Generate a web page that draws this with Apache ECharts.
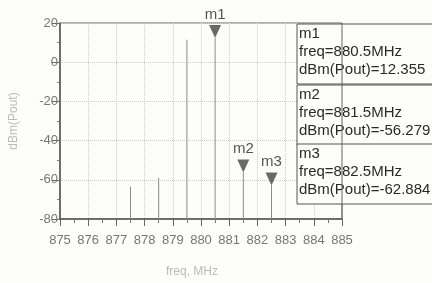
<!DOCTYPE html>
<html>
<head>
<meta charset="utf-8">
<script src="https://cdn.jsdelivr.net/npm/echarts@6/dist/echarts.min.js"></script>
<style>
html, body { margin: 0; padding: 0; background: #fdfdfb; }
#chart { width: 432px; height: 283px; }
</style>
</head>
<body>
<div id="chart"></div>
<script>
// spectrum lines (freq in MHz, power in dBm)
var lineFreq = [877.5, 878.5, 879.5, 880.5, 881.5, 882.5];
var linePower = [-63.5, -59, 11.5, 12.355, -56.279, -62.884];

// markers
var markerNames = ['m1', 'm2', 'm3'];
var markerFreq = [880.5, 881.5, 882.5];
var markerPower = [12.355, -56.279, -62.884];

var chart = echarts.init(document.getElementById('chart'));

var narrow = '"Liberation Sans Narrow", "Liberation Sans", sans-serif';

var option = {
  backgroundColor: '#fdfdfb',
  animation: false,
  grid: { left: 53, right: 90, top: 23, bottom: 62, show: true, borderColor: '#666', borderWidth: 1 },
  xAxis: {
    type: 'value', min: 875, max: 885, interval: 1,
    name: 'freq, MHz', nameLocation: 'middle', nameGap: 47,
    nameTextStyle: { color: '#bbb', fontSize: 12, fontFamily: narrow, padding: [0, 18, 0, 0] },
    axisLine: { onZero: false, lineStyle: { color: '#555', width: 1.5 } },
    axisTick: { length: 7, lineStyle: { color: '#666' } },
    minorTick: { show: true, splitNumber: 2, length: 4, lineStyle: { color: '#777' } },
    axisLabel: { color: '#777', fontSize: 13, fontFamily: narrow, margin: 15 },
    splitLine: { lineStyle: { color: '#ccc', type: 'dotted' } }
  },
  yAxis: {
    type: 'value', min: -80, max: 20, interval: 20,
    name: 'dBm(Pout)', nameLocation: 'middle', nameGap: 40,
    nameTextStyle: { color: '#bbb', fontSize: 12, fontFamily: narrow },
    axisLine: { show: true, onZero: false, lineStyle: { color: '#555', width: 1.5 } },
    axisTick: { show: true, length: 8, lineStyle: { color: '#666' } },
    minorTick: { show: true, splitNumber: 2, length: 3, lineStyle: { color: '#777' } },
    axisLabel: { color: '#777', fontSize: 13, fontFamily: narrow, margin: 2 },
    splitLine: { lineStyle: { color: '#ccc', type: 'dotted' } }
  },
  series: [
    {
      type: 'custom',
      data: lineFreq.map(function (f, i) { return [f, linePower[i]]; }),
      renderItem: function (params, api) {
        var p0 = api.coord([api.value(0), -80]);
        var p1 = api.coord([api.value(0), api.value(1)]);
        return {
          type: 'line',
          shape: { x1: p0[0], y1: p0[1], x2: p1[0], y2: p1[1] },
          style: { stroke: '#8a8a8a', lineWidth: 1 }
        };
      },
      z: 3
    },
    {
      type: 'scatter',
      symbol: 'triangle',
      symbolRotate: 180,
      symbolSize: [12, 13],
      symbolOffset: [0, '-50%'],
      itemStyle: { color: '#444' },
      data: markerFreq.map(function (f, i) { return { value: [f, markerPower[i]], name: markerNames[i] }; }),
      label: {
        show: true, position: 'top', distance: 3,
        formatter: '{b}', color: '#2a2a2a', fontSize: 15,
        fontFamily: '"Liberation Sans", Arial, sans-serif'
      },
      z: 5
    }
  ]
};

chart.setOption(option);

// readout boxes on the right, plus the plot's right border drawn over them
var topLeft = chart.convertToPixel({ gridIndex: 0 }, [875, 20]);
var botRight = chart.convertToPixel({ gridIndex: 0 }, [885, -80]);
var boxTops = [24, 85, 144];
var graphics = [];
markerNames.forEach(function (m, i) {
  graphics.push({
    type: 'rect',
    shape: { x: 297, y: boxTops[i], width: 140, height: 60 },
    style: { fill: '#fdfdfb', stroke: '#555', lineWidth: 1 },
    z: 100
  });
  graphics.push({
    type: 'text',
    x: 299, y: boxTops[i] + 1,
    style: {
      text: m + '\nfreq=' + markerFreq[i] + 'MHz\ndBm(Pout)=' + markerPower[i].toFixed(3),
      font: '15px "Liberation Sans", Arial, sans-serif',
      lineHeight: 18,
      fill: '#2a2a2a'
    },
    z: 101
  });
});
graphics.push({
  type: 'line',
  shape: { x1: botRight[0], y1: topLeft[1], x2: botRight[0], y2: botRight[1] },
  style: { stroke: '#666', lineWidth: 1 },
  z: 102
});
chart.setOption({ graphic: graphics });
</script>
</body>
</html>
